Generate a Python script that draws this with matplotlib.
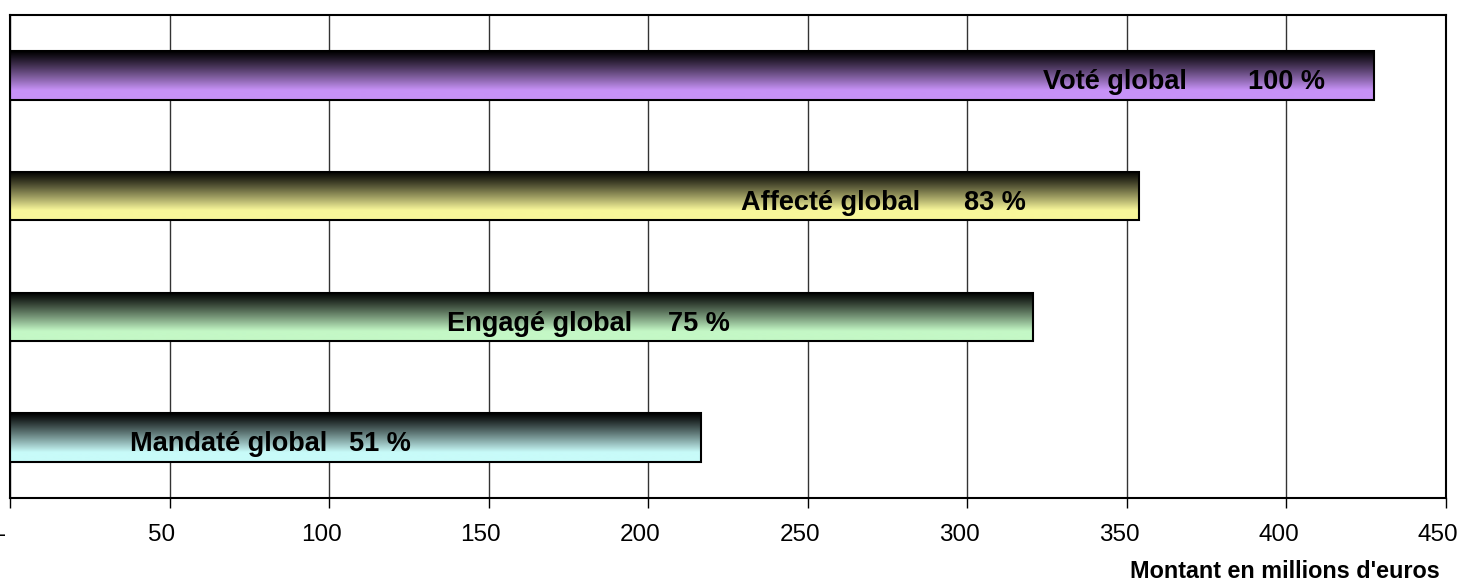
import numpy as np
import matplotlib.pyplot as plt
from matplotlib.colors import LinearSegmentedColormap
from matplotlib.transforms import ScaledTranslation

plt.rcParams['font.family'] = ['Liberation Sans', 'DejaVu Sans']

# data (millions d'euros)
names = ["Voté global", "Affecté global", "Engagé global", "Mandaté global"]
values = [427.4, 353.8, 320.6, 216.5]
pcts = ["100 %", "83 %", "75 %", "51 %"]
colors = ["#C792F7", "#F8F79A", "#C4F8C6", "#C8FBF9"]
ticks = [0, 50, 100, 150, 200, 250, 300, 350, 400, 450]
tick_labels = ["-", "50", "100", "150", "200", "250", "300", "350", "400", "450"]

# label placement inside bars (data units)
name_x = [346.3, 257.0, 165.8, 68.6]
pct_x = [412.1, 318.4, 225.6, 125.7]

fig = plt.figure(figsize=(14.59, 5.82), dpi=100)
ax = fig.add_axes([10/1459, 1-498/582, 1436/1459, 483/582])

y = np.arange(len(names))
bars = ax.barh(y, values, height=0.4, color="none", edgecolor="black", linewidth=1.5, zorder=3)

# vertical gradient: dark at the top to light colour at the bottom
t = np.linspace(0, 1, 256)
prof = np.clip(t / 0.8, 0, 1) ** 1.1
for b, c in zip(bars, colors):
    cmap = LinearSegmentedColormap.from_list("g", ["#000000", c])
    img = prof.reshape(-1, 1)
    x0, y0 = b.get_x(), b.get_y()
    w, h = b.get_width(), b.get_height()
    im = ax.imshow(img, cmap=cmap, vmin=0, vmax=1, aspect="auto",
                   extent=[x0, x0 + w, y0 + h, y0], origin="upper",
                   interpolation="bilinear", zorder=2)
    im.set_clip_path(b)

for i in range(len(names)):
    ax.text(name_x[i], y[i] + 0.055, names[i], ha="center", va="center",
            fontsize=19.5, fontweight="bold", zorder=4)
    ax.text(pct_x[i], y[i] + 0.055, pcts[i], ha="right", va="center",
            fontsize=19.5, fontweight="bold", zorder=4)

ax.set_xlim(0, 450)
ax.set_ylim(3.5, -0.5)
ax.set_xticks(ticks)
ax.set_xticklabels(tick_labels)
ax.set_yticks([])
ax.grid(axis="x", color="#333333", linewidth=1, zorder=1)
ax.set_axisbelow(True)
ax.tick_params(axis="x", direction="out", length=7, width=1, pad=12, labelsize=17.5)
shift = ScaledTranslation(-8/100, 0, fig.dpi_scale_trans)
for lbl in ax.get_xticklabels():
    lbl.set_transform(lbl.get_transform() + shift)
for s in ax.spines.values():
    s.set_linewidth(1.5)
    s.set_color("black")

fig.text(1440/1459, 1-572/582, "Montant en millions d'euros", ha="right", va="center",
         fontsize=16.8, fontweight="bold")

fig.savefig("out.png", dpi=100)
